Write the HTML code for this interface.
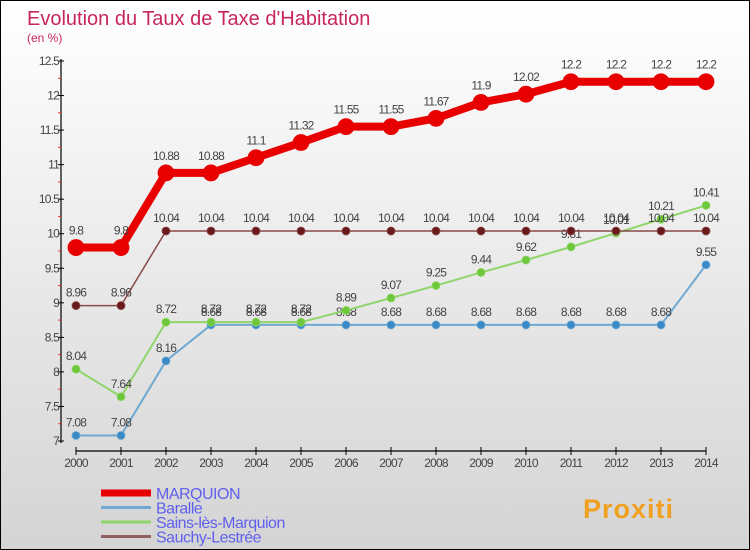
<!DOCTYPE html>
<html><head><meta charset="utf-8"><style>
body{margin:0}
#c{width:750px;height:550px;position:relative;box-sizing:border-box;border:1px solid #000;background:linear-gradient(#fff,#d4d4d4);font-family:"Liberation Sans",sans-serif;overflow:hidden}
svg{position:absolute;left:0;top:0}
</style></head><body>
<div id="c">
<svg id="s" width="750" height="550"></svg>
</div>
<script>
const years=[2000,2001,2002,2003,2004,2005,2006,2007,2008,2009,2010,2011,2012,2013,2014];
const yTicks=[7,7.5,8,8.5,9,9.5,10,10.5,11,11.5,12,12.5];
const marquion=[9.8,9.8,10.88,10.88,11.1,11.32,11.55,11.55,11.67,11.9,12.02,12.2,12.2,12.2,12.2];
const baralle=[7.08,7.08,8.16,8.68,8.68,8.68,8.68,8.68,8.68,8.68,8.68,8.68,8.68,8.68,9.55];
const sains=[8.04,7.64,8.72,8.72,8.72,8.72,8.89,9.07,9.25,9.44,9.62,9.81,10.01,10.21,10.41];
const sauchy=[8.96,8.96,10.04,10.04,10.04,10.04,10.04,10.04,10.04,10.04,10.04,10.04,10.04,10.04,10.04];
const names=["MARQUION","Baralle","Sains-lès-Marquion","Sauchy-Lestrée"];
const s=document.getElementById('s');const NS="http://www.w3.org/2000/svg";
function X(i){return 75+i*45;}
function Y(v){return 440-(v-7)*380/5.5;}
function el(t,a,txt){const e=document.createElementNS(NS,t);for(const k in a)e.setAttribute(k,a[k]);if(txt!==undefined)e.textContent=txt;s.appendChild(e);return e;}
let e;
e=el('text',{x:26,y:24,'font-size':20,fill:'#c8265a'},'Evolution du Taux de Taxe d\'Habitation');


e=el('text',{x:26,y:41,'font-size':12,fill:'#c8265a'},'(en %)');


e=el('line',{x1:60,y1:58,x2:60,y2:442,stroke:'#000','stroke-width':1.2});


for(let v=7.25;v<12.5;v+=0.5){e=el('line',{x1:57,y1:Y(v),x2:60,y2:Y(v),stroke:'#e33'});

}
yTicks.forEach(v=>{e=el('line',{x1:57,y1:Y(v),x2:63,y2:Y(v),stroke:'#000'});


e=el('text',{x:58,y:Y(v)+4,'font-size':12,fill:'#444','text-anchor':'end','letter-spacing':'-0.8'},String(v));

});
e=el('line',{x1:75,y1:450,x2:705,y2:450,stroke:'#000','stroke-width':1.2});


years.forEach((y,i)=>{e=el('line',{x1:X(i),y1:446,x2:X(i),y2:454,stroke:'#000'});


e=el('text',{x:X(i),y:466,'font-size':12,fill:'#444','text-anchor':'middle','letter-spacing':'-0.8'},String(y));

});
function series(data,color,w,r,name,dot){
 e=el('polyline',{points:data.map((v,i)=>X(i)+','+Y(v)).join(' '),fill:'none',stroke:color,'stroke-width':w,'stroke-linejoin':'round'});
 
 
 data.forEach((v,i)=>{e=el('circle',{cx:X(i),cy:Y(v),r:r,fill:dot,stroke:color,'stroke-width':0.8});
 
 
 e=el('text',{x:X(i),y:Y(v)-(r+5),'font-size':12,fill:'#444','text-anchor':'middle','letter-spacing':'-0.8'},String(v));
 
 });
}
series(baralle,'#6fa8d0',2,4,'baralle','#3a8ac8');
series(sains,'#8fd66a',2,4,'sains','#6cc83a');
series(sauchy,'#8a4a4a',1.5,4,'sauchy','#6a1a1a');
series(marquion,'#e80000',8,8,'marquion','#e80000');
const lc=['#e80000','#6fa8d0','#8fd66a','#906060'],lw=[7,3,3,3];
names.forEach((n,i)=>{const y=492+i*14.5;
 e=el('line',{x1:100,y1:y,x2:150,y2:y,stroke:lc[i],'stroke-width':lw[i]});
 
 
 e=el('text',{x:155,y:y+6,'font-size':16,fill:'#6060ee','letter-spacing':'-0.5'},n);
 
 });
e=el('text',{x:582,y:517,'font-size':27,'font-weight':'bold',fill:'#f0a020','letter-spacing':'1'},'Proxiti');


</script>
</body></html>
